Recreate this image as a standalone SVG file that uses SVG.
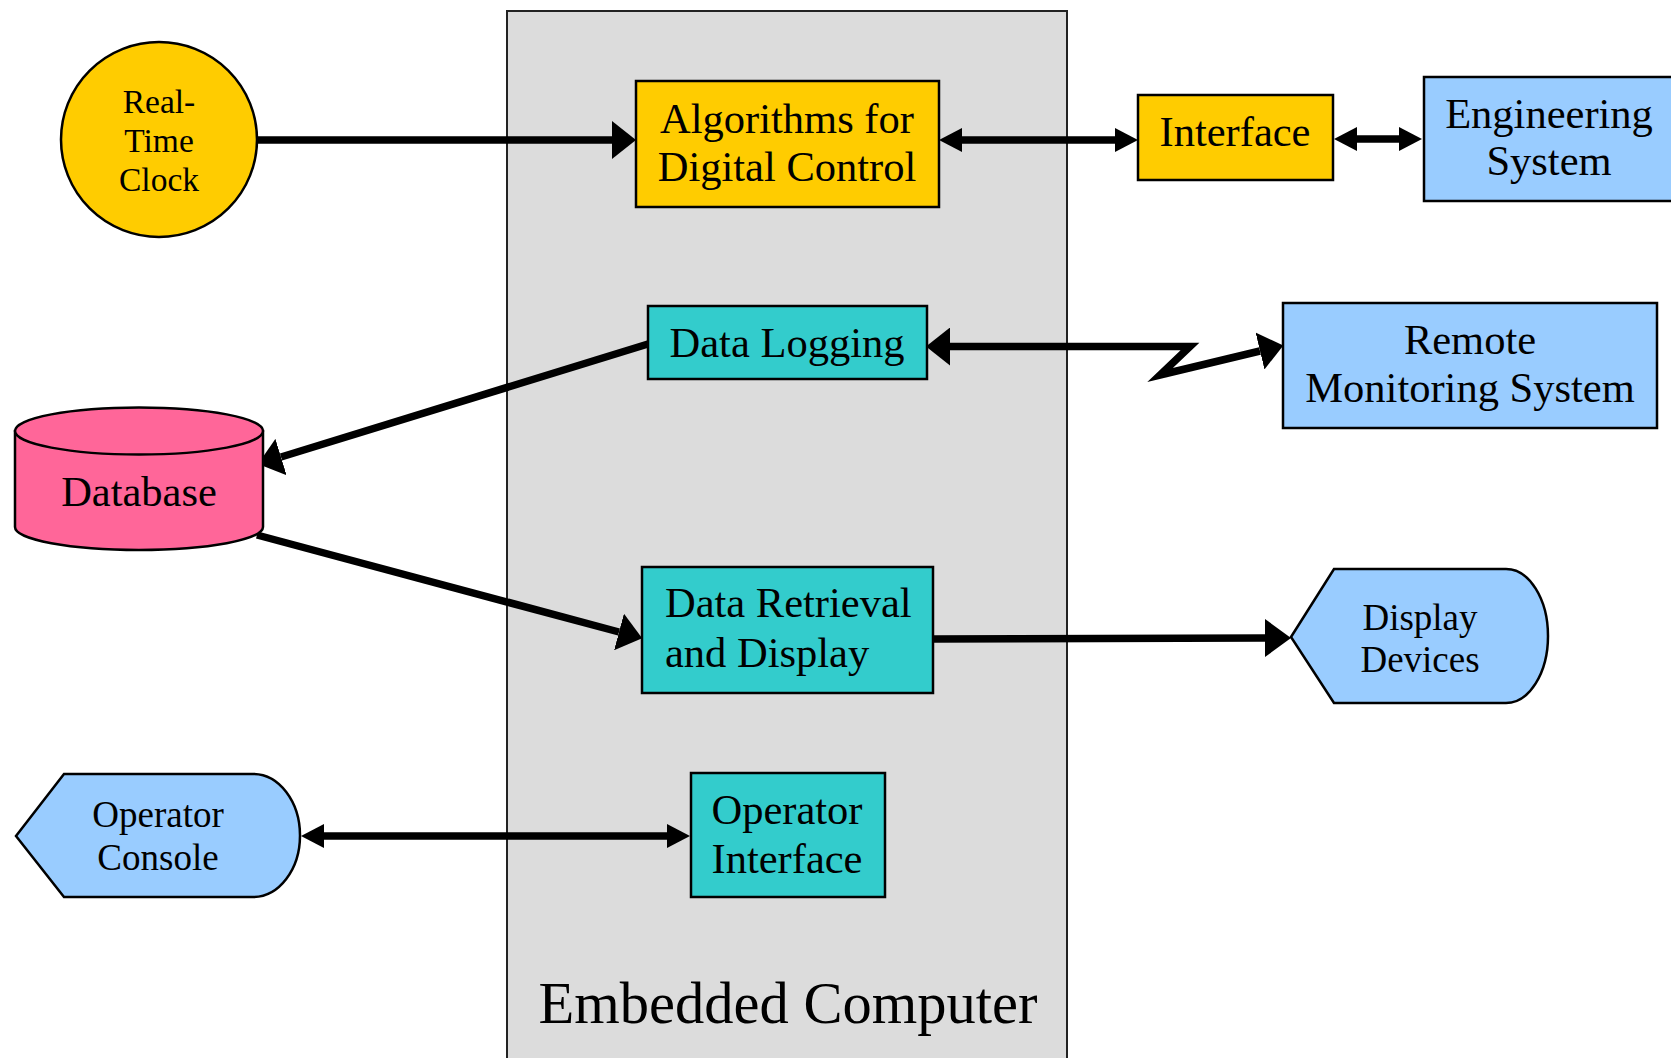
<svg xmlns="http://www.w3.org/2000/svg" width="1671" height="1058" viewBox="0 0 1671 1058">
  <style>
    .box { stroke: #000; stroke-width: 2.5; }
    .gold { fill: #FFCC00; }
    .teal { fill: #33CCCC; }
    .sky { fill: #99CCFF; }
    .pink { fill: #FF6699; }
    .lbl { font-family: "Liberation Serif", "Times New Roman", serif; font-size: 42.5px; fill: #000; text-anchor: middle; }
    .left { text-anchor: start; }
    .mid { font-size: 37px; }
    .sml { font-size: 33.5px; }
    .wire { fill: none; stroke: #000; stroke-width: 7.5; stroke-linejoin: miter; stroke-miterlimit: 10; }
    .big { marker-end: url(#head); }
    .dbl { marker-start: url(#headSm); marker-end: url(#headSm); }
  </style>
  <defs>
    <!-- arrowheads: reference point at the base so lines stop where the head starts -->
    <marker id="head" markerUnits="userSpaceOnUse" viewBox="0 0 24 38" markerWidth="24" markerHeight="38" refX="0" refY="19" orient="auto-start-reverse">
      <path d="M0,0 L24,19 L0,38 Z" fill="#000"/>
    </marker>
    <marker id="headSm" markerUnits="userSpaceOnUse" viewBox="0 0 23 24" markerWidth="23" markerHeight="24" refX="0" refY="12" orient="auto-start-reverse">
      <path d="M0,0 L23,12 L0,24 Z" fill="#000"/>
    </marker>
  </defs>

  <rect width="1671" height="1058" fill="#fff"/>

  <!-- embedded computer container -->
  <g id="embedded-computer">
    <rect x="507" y="11" width="560" height="1060" fill="#DCDCDC" stroke="#222" stroke-width="2"/>
    <text class="lbl" x="788" y="1023" style="font-size:58.5px">Embedded Computer</text>
  </g>

  <!-- connectors -->
  <g id="connectors">
    <line class="wire big" x1="257" y1="140" x2="612" y2="140"/>
    <line class="wire dbl" x1="962" y1="140" x2="1115" y2="140"/>
    <line class="wire dbl" x1="1357" y1="139" x2="1399" y2="139"/>
    <line class="wire big" x1="648" y1="344" x2="281" y2="457"/>
    <line class="wire big" x1="257" y1="535" x2="619" y2="632"/>
    <line class="wire" x1="933" y1="639" x2="1265" y2="638"/>
    <path d="M1265,619 L1291,638 L1265,657 Z" fill="#000"/>
    <line class="wire dbl" x1="324" y1="836" x2="667" y2="836"/>
    <polyline class="wire" points="950,346.5 1190,346.5 1160,375 1260,351" style="marker-start:url(#head);marker-end:url(#head)"/>
  </g>

  <g id="real-time-clock">
    <ellipse class="box gold" cx="159" cy="139.5" rx="98" ry="97.5"/>
    <text class="lbl sml" x="159" y="113">Real-</text>
    <text class="lbl sml" x="159" y="152">Time</text>
    <text class="lbl sml" x="159" y="191">Clock</text>
  </g>

  <g id="algorithms">
    <rect class="box gold" x="636" y="81" width="303" height="126"/>
    <text class="lbl" x="787" y="133">Algorithms for</text>
    <text class="lbl" x="787" y="181">Digital Control</text>
  </g>

  <g id="interface">
    <rect class="box gold" x="1138" y="95" width="195" height="85"/>
    <text class="lbl" x="1235" y="146">Interface</text>
  </g>

  <g id="engineering-system">
    <rect class="box sky" x="1424" y="77" width="260" height="124"/>
    <text class="lbl" x="1549" y="128">Engineering</text>
    <text class="lbl" x="1549" y="175">System</text>
  </g>

  <g id="data-logging">
    <rect class="box teal" x="648" y="306" width="279" height="73"/>
    <text class="lbl" x="787" y="357">Data Logging</text>
  </g>

  <g id="remote-monitoring">
    <rect class="box sky" x="1283" y="303" width="374" height="125"/>
    <text class="lbl" x="1470" y="354">Remote</text>
    <text class="lbl" x="1470" y="402">Monitoring System</text>
  </g>

  <g id="database">
    <path class="box pink" d="M15,431 L15,527 A124,23 0 0 0 263,527 L263,431 Z"/>
    <ellipse class="box pink" cx="139" cy="431" rx="124" ry="23.5"/>
    <text class="lbl" x="139" y="506">Database</text>
  </g>

  <g id="data-retrieval">
    <rect class="box teal" x="642" y="567" width="291" height="126"/>
    <text class="lbl left" x="665" y="617">Data Retrieval</text>
    <text class="lbl left" x="665" y="667">and Display</text>
  </g>

  <g id="display-devices">
    <path class="box sky" d="M1291,637 L1334,569 L1506,569 A42,67 0 0 1 1506,703 L1334,703 Z"/>
    <text class="lbl mid" x="1420" y="630">Display</text>
    <text class="lbl mid" x="1420" y="672">Devices</text>
  </g>

  <g id="operator-console">
    <path class="box sky" d="M16,836 L64,774 L253,774 A47,61.5 0 0 1 253,897 L64,897 Z"/>
    <text class="lbl mid" x="158" y="827">Operator</text>
    <text class="lbl mid" x="158" y="870">Console</text>
  </g>

  <g id="operator-interface">
    <rect class="box teal" x="691" y="773" width="194" height="124"/>
    <text class="lbl" x="787" y="824">Operator</text>
    <text class="lbl" x="787" y="873">Interface</text>
  </g>
</svg>
